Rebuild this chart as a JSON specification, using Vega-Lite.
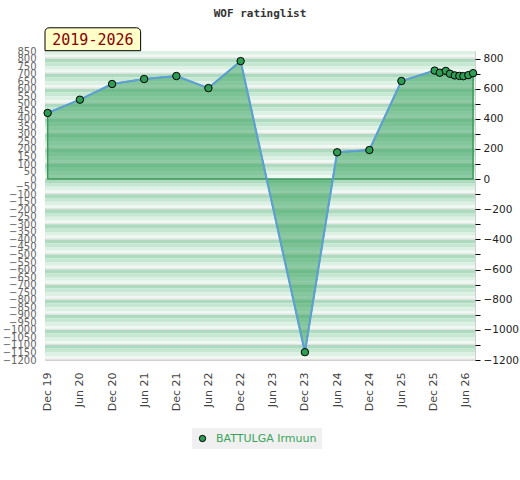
{
  "$schema": "https://vega.github.io/schema/vega-lite/v6.json",
  "width": 430,
  "height": 309,
  "autosize": {"type": "none"},
  "padding": {"left": 45, "top": 51, "right": 45, "bottom": 120},
  "background": "white",
  "title": {"text": "WOF ratinglist", "font": "DejaVu Sans Mono", "fontSize": 11, "fontWeight": "bold", "color": "#333333", "frame": "group", "anchor": "middle", "offset": 8},
  "config": {
    "view": {"stroke": "#d0d0d0"},
    "axis": {"grid": false},
    "axisX": {
      "labelOverlap": false, "labelSeparation": 0, "labelFlush": false, "labelAngle": -90,
      "labelFont": "DejaVu Sans", "labelFontSize": 11, "labelColor": "#444444", "labelPadding": 12,
      "ticks": false, "domain": false, "title": null, "format": "%b %y", "tickCount": 30
    }
  },
  "datasets": {
    "bands": [
      {"a": 875, "b": 900, "s": 0}, {"a": 850, "b": 875, "s": 1}, {"a": 825, "b": 850, "s": 2}, {"a": 808, "b": 825, "s": 3}, {"a": 800, "b": 808, "s": 4},
      {"a": 775, "b": 800, "s": 0}, {"a": 750, "b": 775, "s": 1}, {"a": 725, "b": 750, "s": 2}, {"a": 708, "b": 725, "s": 3}, {"a": 700, "b": 708, "s": 4},
      {"a": 675, "b": 700, "s": 0}, {"a": 650, "b": 675, "s": 1}, {"a": 625, "b": 650, "s": 2}, {"a": 608, "b": 625, "s": 3}, {"a": 600, "b": 608, "s": 4},
      {"a": 575, "b": 600, "s": 0}, {"a": 550, "b": 575, "s": 1}, {"a": 525, "b": 550, "s": 2}, {"a": 508, "b": 525, "s": 3}, {"a": 500, "b": 508, "s": 4},
      {"a": 475, "b": 500, "s": 0}, {"a": 450, "b": 475, "s": 1}, {"a": 425, "b": 450, "s": 2}, {"a": 408, "b": 425, "s": 3}, {"a": 400, "b": 408, "s": 4},
      {"a": 375, "b": 400, "s": 0}, {"a": 350, "b": 375, "s": 1}, {"a": 325, "b": 350, "s": 2}, {"a": 308, "b": 325, "s": 3}, {"a": 300, "b": 308, "s": 4},
      {"a": 275, "b": 300, "s": 0}, {"a": 250, "b": 275, "s": 1}, {"a": 225, "b": 250, "s": 2}, {"a": 208, "b": 225, "s": 3}, {"a": 200, "b": 208, "s": 4},
      {"a": 175, "b": 200, "s": 0}, {"a": 150, "b": 175, "s": 1}, {"a": 125, "b": 150, "s": 2}, {"a": 108, "b": 125, "s": 3}, {"a": 100, "b": 108, "s": 4},
      {"a": 75, "b": 100, "s": 0}, {"a": 50, "b": 75, "s": 1}, {"a": 25, "b": 50, "s": 2}, {"a": 8, "b": 25, "s": 3}, {"a": 0, "b": 8, "s": 4},
      {"a": -25, "b": 0, "s": 0}, {"a": -50, "b": -25, "s": 1}, {"a": -75, "b": -50, "s": 2}, {"a": -92, "b": -75, "s": 3}, {"a": -100, "b": -92, "s": 4},
      {"a": -125, "b": -100, "s": 0}, {"a": -150, "b": -125, "s": 1}, {"a": -175, "b": -150, "s": 2}, {"a": -192, "b": -175, "s": 3}, {"a": -200, "b": -192, "s": 4},
      {"a": -225, "b": -200, "s": 0}, {"a": -250, "b": -225, "s": 1}, {"a": -275, "b": -250, "s": 2}, {"a": -292, "b": -275, "s": 3}, {"a": -300, "b": -292, "s": 4},
      {"a": -325, "b": -300, "s": 0}, {"a": -350, "b": -325, "s": 1}, {"a": -375, "b": -350, "s": 2}, {"a": -392, "b": -375, "s": 3}, {"a": -400, "b": -392, "s": 4},
      {"a": -425, "b": -400, "s": 0}, {"a": -450, "b": -425, "s": 1}, {"a": -475, "b": -450, "s": 2}, {"a": -492, "b": -475, "s": 3}, {"a": -500, "b": -492, "s": 4},
      {"a": -525, "b": -500, "s": 0}, {"a": -550, "b": -525, "s": 1}, {"a": -575, "b": -550, "s": 2}, {"a": -592, "b": -575, "s": 3}, {"a": -600, "b": -592, "s": 4},
      {"a": -625, "b": -600, "s": 0}, {"a": -650, "b": -625, "s": 1}, {"a": -675, "b": -650, "s": 2}, {"a": -692, "b": -675, "s": 3}, {"a": -700, "b": -692, "s": 4},
      {"a": -725, "b": -700, "s": 0}, {"a": -750, "b": -725, "s": 1}, {"a": -775, "b": -750, "s": 2}, {"a": -792, "b": -775, "s": 3}, {"a": -800, "b": -792, "s": 4},
      {"a": -825, "b": -800, "s": 0}, {"a": -850, "b": -825, "s": 1}, {"a": -875, "b": -850, "s": 2}, {"a": -892, "b": -875, "s": 3}, {"a": -900, "b": -892, "s": 4},
      {"a": -925, "b": -900, "s": 0}, {"a": -950, "b": -925, "s": 1}, {"a": -975, "b": -950, "s": 2}, {"a": -992, "b": -975, "s": 3}, {"a": -1000, "b": -992, "s": 4},
      {"a": -1025, "b": -1000, "s": 0}, {"a": -1050, "b": -1025, "s": 1}, {"a": -1075, "b": -1050, "s": 2}, {"a": -1092, "b": -1075, "s": 3}, {"a": -1100, "b": -1092, "s": 4},
      {"a": -1125, "b": -1100, "s": 0}, {"a": -1150, "b": -1125, "s": 1}, {"a": -1175, "b": -1150, "s": 2}, {"a": -1192, "b": -1175, "s": 3}, {"a": -1200, "b": -1192, "s": 4}
    ],
    "ratings": [
      {"date": "2019-12-01", "rating": 439, "player": "BATTULGA Irmuun"},
      {"date": "2020-06-01", "rating": 527, "player": "BATTULGA Irmuun"},
      {"date": "2020-12-01", "rating": 631, "player": "BATTULGA Irmuun"},
      {"date": "2021-06-01", "rating": 664, "player": "BATTULGA Irmuun"},
      {"date": "2021-12-01", "rating": 684, "player": "BATTULGA Irmuun"},
      {"date": "2022-06-01", "rating": 604, "player": "BATTULGA Irmuun"},
      {"date": "2022-12-01", "rating": 783, "player": "BATTULGA Irmuun"},
      {"date": "2023-12-01", "rating": -1148, "player": "BATTULGA Irmuun"},
      {"date": "2024-06-01", "rating": 178, "player": "BATTULGA Irmuun"},
      {"date": "2024-12-01", "rating": 193, "player": "BATTULGA Irmuun"},
      {"date": "2025-06-01", "rating": 651, "player": "BATTULGA Irmuun"},
      {"date": "2025-12-07", "rating": 720, "player": "BATTULGA Irmuun"},
      {"date": "2026-01-05", "rating": 706, "player": "BATTULGA Irmuun"},
      {"date": "2026-02-08", "rating": 718, "player": "BATTULGA Irmuun"},
      {"date": "2026-03-04", "rating": 699, "player": "BATTULGA Irmuun"},
      {"date": "2026-03-31", "rating": 688, "player": "BATTULGA Irmuun"},
      {"date": "2026-04-26", "rating": 685, "player": "BATTULGA Irmuun"},
      {"date": "2026-05-19", "rating": 683, "player": "BATTULGA Irmuun"},
      {"date": "2026-06-16", "rating": 690, "player": "BATTULGA Irmuun"},
      {"date": "2026-07-13", "rating": 703, "player": "BATTULGA Irmuun"}
    ]
  },
  "layer": [
    {
      "data": {"name": "bands"},
      "mark": {"type": "rect", "clip": true},
      "encoding": {
        "y": {
          "field": "a", "type": "quantitative",
          "scale": {"domain": [-1200, 850], "nice": false, "zero": false},
          "axis": {
            "orient": "left", "title": null, "ticks": false, "domain": false, "format": "d", "tickCount": 60,
            "values": [-1200, -1150, -1100, -1050, -1000, -950, -900, -850, -800, -750, -700, -650, -600, -550, -500, -450, -400, -350, -300, -250, -200, -150, -100, -50, 0, 50, 100, 150, 200, 250, 300, 350, 400, 450, 500, 550, 600, 650, 700, 750, 800, 850],
            "labelOverlap": false, "labelFont": "DejaVu Sans", "labelFontSize": 10,
            "labelColor": "#666666", "labelPadding": 9, "labelBound": false
          }
        },
        "y2": {"field": "b"},
        "color": {
          "field": "s", "type": "nominal",
          "scale": {"domain": [0, 1, 2, 3, 4], "range": ["#aedbbf", "#c6e7d2", "#dcf0e4", "#eff8f2", "#e4e0e0"]},
          "legend": null
        }
      }
    },
    {
      "data": {"name": "ratings"},
      "mark": {"type": "area", "fill": "#2e9e55", "fillOpacity": 0.5, "stroke": "#3a9a5a", "strokeWidth": 1.5},
      "encoding": {
        "x": {
          "field": "date", "type": "temporal",
          "scale": {"domain": [{"year": 2019, "month": 11, "date": 16}, {"year": 2026, "month": 7, "date": 24}]},
          "axis": {
            "labelOverlap": false, "labelAngle": -90, "format": "%b %y", "tickCount": 30,
            "values": [1575158400000, 1590969600000, 1606780800000, 1622505600000, 1638316800000, 1654041600000, 1669852800000, 1685577600000, 1701388800000, 1717200000000, 1733011200000, 1748736000000, 1764547200000, 1780272000000]
          }
        },
        "y": {
          "field": "rating", "type": "quantitative",
          "axis": {
            "orient": "right", "title": null, "domain": false, "format": "d", "tickCount": 40,
            "values": [-1200, -1100, -1000, -900, -800, -700, -600, -500, -400, -300, -200, -100, 0, 100, 200, 300, 400, 500, 600, 700, 800],
            "labelExpr": "datum.value % 200 == 0 ? datum.label : ''",
            "tickColor": "#000000", "tickSize": 5, "labelPadding": 3,
            "labelFont": "DejaVu Sans", "labelFontSize": 10.5, "labelColor": "#222222",
            "labelOverlap": false, "labelBound": false
          }
        },
        "y2": {"datum": 0}
      }
    },
    {
      "data": {"name": "ratings"},
      "mark": {"type": "line", "color": "#5f9fd8", "strokeWidth": 2},
      "encoding": {
        "x": {"field": "date", "type": "temporal", "axis": {"labelOverlap": false, "labelAngle": -90, "tickCount": 30}},
        "y": {"field": "rating", "type": "quantitative", "axis": null}
      }
    },
    {
      "data": {"name": "ratings"},
      "mark": {"type": "point", "filled": true, "size": 55, "stroke": "#000000", "strokeWidth": 1, "opacity": 1},
      "encoding": {
        "x": {"field": "date", "type": "temporal", "axis": {"labelOverlap": false, "labelAngle": -90, "tickCount": 30}},
        "y": {"field": "rating", "type": "quantitative", "axis": null},
        "color": {
          "field": "player", "type": "nominal",
          "scale": {"range": ["#2f9e55"]},
          "legend": {
            "orient": "none", "legendX": 147, "legendY": 377, "direction": "horizontal",
            "title": null, "fillColor": "#f0f0f0", "padding": 5,
            "labelColor": "#3aa55a", "labelFont": "DejaVu Sans", "labelFontSize": 11, "labelOffset": 8,
            "symbolType": "circle", "symbolSize": 40, "symbolStrokeColor": "#000000", "symbolStrokeWidth": 1
          }
        }
      }
    },
    {
      "data": {"values": [{}]},
      "mark": {"type": "rect", "clip": false, "fill": "#ffffc8", "stroke": "#000000", "strokeWidth": 1, "cornerRadiusTopLeft": 4, "cornerRadiusTopRight": 4},
      "encoding": {
        "x": {"datum": {"year": 2019, "month": 11, "date": 16}, "type": "temporal", "axis": {"labelOverlap": false, "labelAngle": -90, "tickCount": 30}},
        "x2": {"datum": {"year": 2021, "month": 5, "date": 12}},
        "y": {"datum": 1004, "type": "quantitative", "axis": null},
        "y2": {"datum": 852}
      }
    },
    {
      "data": {"values": [{}]},
      "mark": {"type": "text", "clip": false, "text": "2019-2026", "font": "DejaVu Sans Mono", "fontSize": 15, "color": "#8b0000", "align": "center", "baseline": "middle"},
      "encoding": {
        "x": {"datum": {"year": 2020, "month": 8, "date": 14}, "type": "temporal", "axis": {"labelOverlap": false, "labelAngle": -90, "tickCount": 30}},
        "y": {"datum": 925, "type": "quantitative", "axis": null}
      }
    }
  ],
  "resolve": {"scale": {"color": "independent"}, "axis": {"y": "independent"}}
}
